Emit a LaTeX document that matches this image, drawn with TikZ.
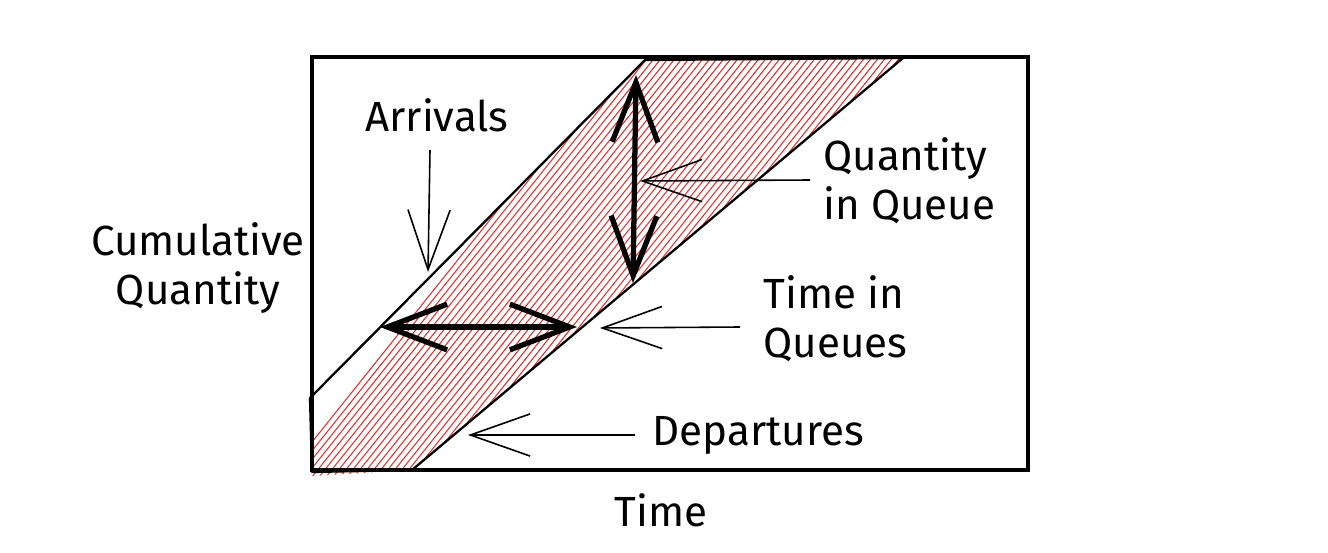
\documentclass[tikz,border=0pt]{standalone}
\usepackage{fontspec}
\setmainfont{Fira Sans}
\usetikzlibrary{arrows.meta}

\definecolor{hatchred}{HTML}{E03131}

\tikzset{
  txt/.style={font=\fontsize{24}{28}\selectfont, inner sep=0pt},
  thinarrow/.style={line width=0.9pt, -{Straight Barb[length=34pt,width=24pt]}},
  thickarrow/.style={line width=3pt, {Straight Barb[length=34pt,width=26pt]}-{Straight Barb[length=34pt,width=26pt]}},
}

\begin{document}
\begin{tikzpicture}[x=0.02cm,y=-0.02cm]
\useasboundingbox (0,0) rectangle (1328,553);

% hatched band between arrivals and departures
\begin{scope}
\clip (310,398) -- (645,60) -- (903,58) -- (412,470) -- (312,476) -- cycle;
\foreach \i in {280,287,...,600}
	\draw [hatchred, line width=0.6pt] (\i,482) -- ++(430,-537);
\end{scope}
\draw [line width=1.3pt, line join=round] (310,398) -- (645,60) -- (903,58) -- (412,470) -- (312,472) -- cycle;

% frame
\draw [line width=1.8pt] (312,57) rectangle (1028,470);

% labels
\node [txt] (arrivals) at (437,115) {Arrivals};
\node [txt, align=center] (cumul) at (198,268) {Cumulative\\Quantity};
\node [txt, align=left, anchor=west] (qtyq) at (823,181) {Quantity\\in Queue};
\node [txt, align=left, anchor=west] (timeq) at (763,319) {Time in\\Queues};
\node [txt, anchor=west] (depart) at (652,435) {Departures};
\node [txt] (time) at (661,510) {Time};

% arrow ends
\coordinate (arrA) at (430,150);
\coordinate (arrB) at (428,272);
\coordinate (qtyA) at (810,180);
\coordinate (qtyB) at (640,181);
\coordinate (tqA) at (740,327);
\coordinate (tqB) at (600,328);
\coordinate (depA) at (635,435);
\coordinate (depB) at (468,435);
\coordinate (vTop) at (636,75);
\coordinate (vBot) at (633,283);
\coordinate (hL) at (380,327);
\coordinate (hR) at (577,327);

\draw [thinarrow] (arrA) -- (arrB);
\draw [thinarrow] (qtyA) -- (qtyB);
\draw [thinarrow] (tqA) -- (tqB);
\draw [thinarrow] (depA) -- (depB);
\draw [thickarrow] (vTop) -- (vBot);
\draw [thickarrow] (hL) -- (hR);
\end{tikzpicture}
\end{document}
